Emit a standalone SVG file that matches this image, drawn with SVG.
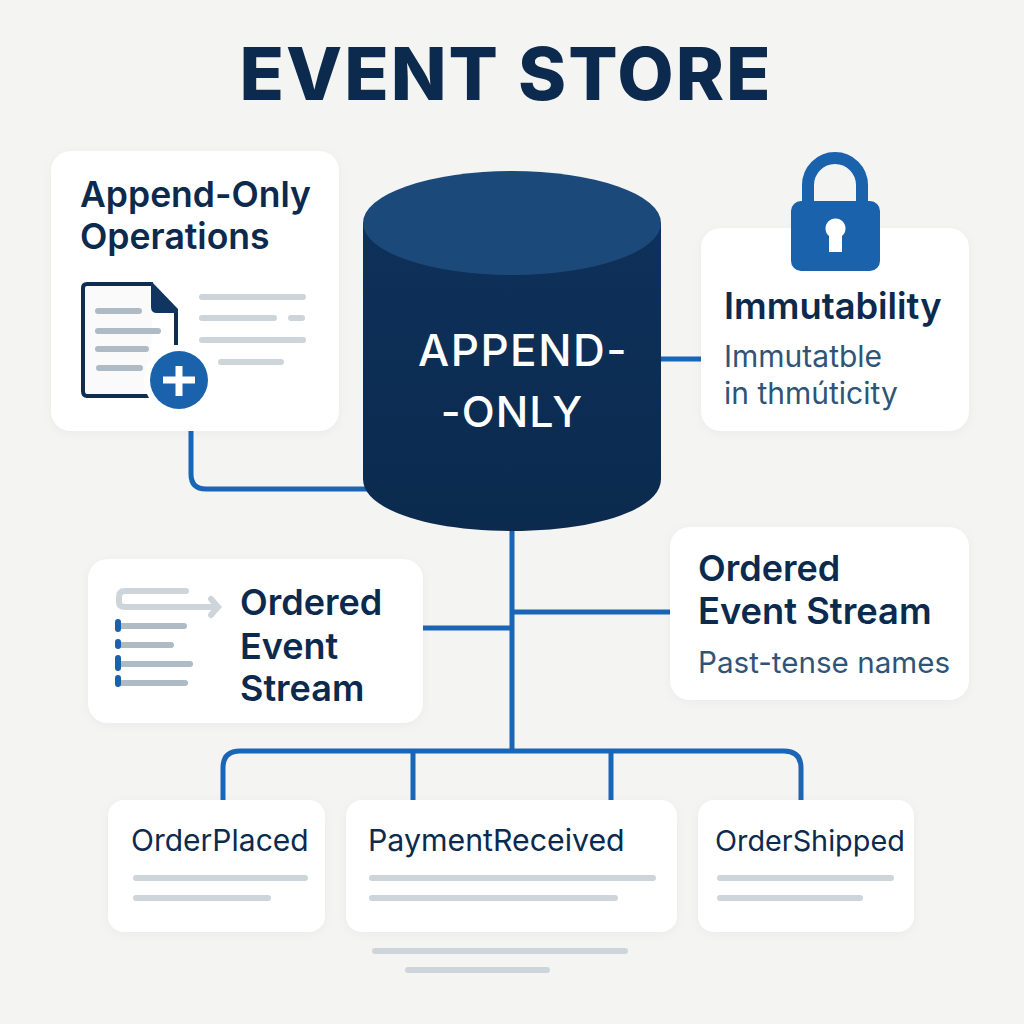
<svg xmlns="http://www.w3.org/2000/svg" width="1024" height="1024" viewBox="0 0 1024 1024">
<defs>
<filter id="sh" x="-10%" y="-10%" width="120%" height="120%"><feDropShadow dx="0" dy="2" stdDeviation="5" flood-color="#1c2c40" flood-opacity="0.04"/></filter>
<linearGradient id="body" x1="0" y1="0" x2="0" y2="1"><stop offset="0" stop-color="#0e315a"/><stop offset="1" stop-color="#0b2a4e"/></linearGradient>
</defs>
<style>
.card{fill:#fff;filter:url(#sh)}
text{font-family:Inter,"Liberation Sans",sans-serif}
.h{font-weight:600;fill:#0c2a4d}
.s{font-weight:400;fill:#2f5478}
.e{font-weight:400;fill:#0c2a4d}
.c{fill:none;stroke:#1b65b6;stroke-width:5}
.g{stroke:#cdd5da;stroke-width:6;stroke-linecap:round;fill:none}
.g2{stroke:#aebbc4;stroke-width:6;stroke-linecap:round;fill:none}
</style>
<rect width="1024" height="1024" fill="#f4f4f3"/>
<text x="506" y="100" text-anchor="middle" font-size="73" font-weight="800" fill="#0c2a4d" letter-spacing="2" id="title">EVENT STORE</text>

<g id="connectors">
<path class="c" d="M191 431V474Q191 489 206 489H370"/>
<path class="c" d="M655 359H702"/>
<path class="c" d="M512 525V750"/>
<path class="c" d="M512 612H670"/>
<path class="c" d="M423 628H512"/>
<path class="c" d="M223 801V768Q223 751 240 751H784Q801 751 801 768V801"/>
<path class="c" d="M413 751V801"/>
<path class="c" d="M611 751V801"/>
</g>

<g id="node-append">
<rect class="card" x="51" y="151" width="288" height="280" rx="20"/>
<text class="h" font-size="35.5" x="80" y="207">Append-Only</text>
<text class="h" font-size="35.6" x="80" y="249">Operations</text>
<path d="M153 284H87Q83 284 83 288V391Q83 396 87 396H150" fill="#fafafa" stroke="#0f2d50" stroke-width="4"/>
<path d="M176 312V345" stroke="#0f2d50" stroke-width="4" fill="none"/>
<path d="M152 282L178 309V313H157Q151 313 151 307V282Z" fill="#0f3560"/>
<path class="g2" d="M98 311H139M98 331H158M98 349H146M99 368H140"/>
<path class="g" d="M202 297H303M202 318H274M291 318H302M202 340H303M221 362H281"/>
<circle cx="179" cy="380" r="35" fill="#fff"/>
<circle cx="179" cy="380" r="29" fill="#1a62ac"/>
<path d="M163 380H195M179 366V396" stroke="#fff" stroke-width="7"/>
</g>

<g id="node-cylinder">
<path d="M363 223V479C363 510 430 531 512 531S661 510 661 479V223Z" fill="url(#body)"/>
<ellipse cx="512" cy="223" rx="149" ry="52" fill="#1b4a7a"/>
<text x="523" y="366" text-anchor="middle" font-size="44" font-weight="500" fill="#fff" letter-spacing="1.5">APPEND-</text>
<text x="512" y="427" text-anchor="middle" font-size="43" font-weight="500" fill="#fff" letter-spacing="1">-ONLY</text>
</g>

<g id="node-immutability">
<rect class="card" x="701" y="228" width="268" height="203" rx="20"/>
<path d="M808 206V185A27 27 0 0 1 862 185V206" fill="none" stroke="#1a62ac" stroke-width="12"/>
<rect x="791" y="201" width="89" height="70" rx="10" fill="#1a62ac"/>
<path d="M829 252V236A10 10 0 1 1 842 236V252Z" fill="#fff"/>
<text class="h" font-size="36.3" x="724" y="319">Immutability</text>
<text class="s" font-size="30" x="724" y="367">Immutatble</text>
<text class="s" font-size="30" x="724" y="404">in thmúticity</text>
</g>

<g id="node-stream-left">
<rect class="card" x="88" y="559" width="335" height="164" rx="20"/>
<path d="M186 591H125Q119 591 119 597V602Q119 607 125 607H212" fill="none" stroke="#cdd5da" stroke-width="6" stroke-linecap="round"/>
<path d="M211 599L218 607L211 615" fill="none" stroke="#cdd5da" stroke-width="6" stroke-linecap="round"/>
<path class="g2" d="M120 626H184M120 645H171M120 664H190M120 683H185"/>
<path d="M118 622V629M118 642V646M118 658V668M118 678V684" stroke="#1a62ac" stroke-width="6" stroke-linecap="round"/>
<text class="h" font-size="36" x="240" y="615">Ordered</text>
<text class="h" font-size="36" x="240" y="659">Event</text>
<text class="h" font-size="36" x="240" y="701">Stream</text>
</g>

<g id="node-stream-right">
<rect class="card" x="670" y="527" width="299" height="173" rx="20"/>
<text class="h" font-size="36" x="698" y="581">Ordered</text>
<text class="h" font-size="36.3" x="698" y="624">Event Stream</text>
<text class="s" font-size="29.6" x="698" y="673">Past-tense names</text>
</g>

<g id="node-orderplaced">
<rect class="card" x="108" y="800" width="217" height="132" rx="16"/>
<text class="e" font-size="30" x="131" y="851">OrderPlaced</text>
<path class="g" d="M136 878H305M136 898H268"/>
</g>
<g id="node-paymentreceived">
<rect class="card" x="346" y="800" width="331" height="132" rx="16"/>
<text class="e" font-size="30.3" x="368" y="851">PaymentReceived</text>
<path class="g" d="M372 878H653M372 898H615"/>
</g>
<g id="node-ordershipped">
<rect class="card" x="698" y="800" width="216" height="132" rx="16"/>
<text class="e" font-size="28.8" x="715" y="851">OrderShipped</text>
<path class="g" d="M720 878H891M720 898H860"/>
</g>
<path class="g" d="M375 951H625M408 970H547"/>
</svg>
